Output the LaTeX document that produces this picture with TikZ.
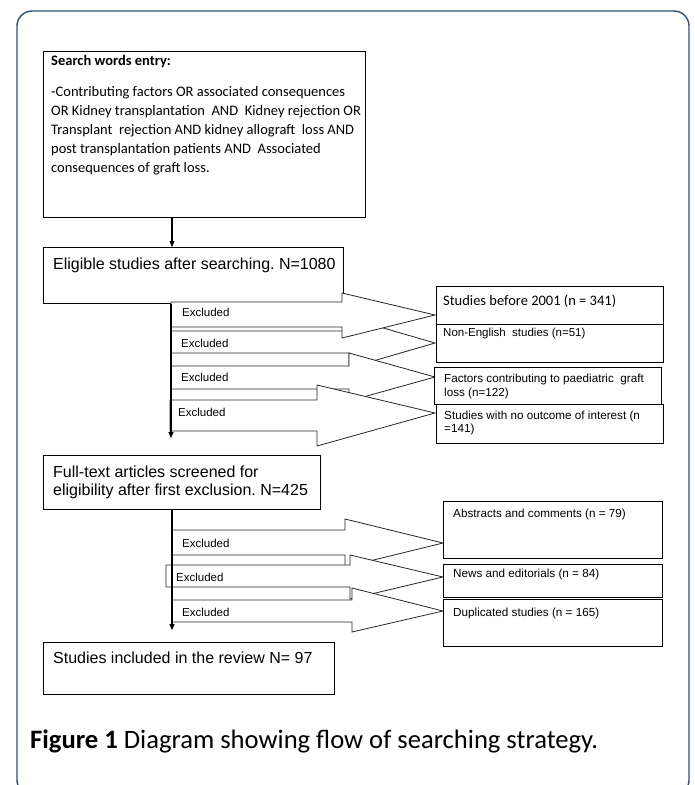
\documentclass[tikz,border=0pt]{standalone}
\usepackage{fontspec}
\setmainfont{Carlito}
\newfontfamily\arialf{Liberation Sans}
\usetikzlibrary{arrows.meta}
\definecolor{framecol}{RGB}{47,79,117}
\frenchspacing
\newcommand\blkarr[8]{\draw[blk] (#1,#2) -- (#4,#2) -- (#4,#5) -- (#7,#8) -- (#4,#6) -- (#4,#3) -- (#1,#3) -- cycle;}
\begin{document}
\begin{tikzpicture}[x=1pt,y=-1pt,
  box/.style={draw=black,line width=0.9pt,fill=white,inner sep=0pt,anchor=north west},
  ctxt/.style={anchor=base west,inner sep=0pt,font=\fontsize{14.5}{17}\selectfont},
  atxt/.style={anchor=base west,inner sep=0pt,font=\arialf\fontsize{11.7}{14}\selectfont},
  bigtxt/.style={anchor=base west,inner sep=0pt,font=\arialf\fontsize{16}{19}\selectfont},
  exc/.style={anchor=base west,inner sep=0pt,font=\arialf\fontsize{11.5}{14}\selectfont},
  blk/.style={draw=black!85,line width=0.8pt,fill=white,line join=miter},
  flow/.style={draw=black,line width=1.1pt,-{Triangle[width=5pt,length=6pt]}}
]
\useasboundingbox (0,0) rectangle (694,785);
\fill[white] (0,0) rectangle (694,785);
% outer frame
\draw[framecol,line width=1.4pt,rounded corners=15pt] (17,11) rectangle (689,795);

% ---------- left column boxes ----------
\node[box,minimum width=322pt,minimum height=166pt] (search) at (43,51) {};
\node[ctxt,font=\bfseries\fontsize{14.5}{17}\selectfont] (s0) at (51,65) {Search words entry:};
\node[ctxt] (s1) at (51,96) {-Contributing factors OR associated consequences};
\node[ctxt] (s2) at (51,115.2) {OR Kidney transplantation \ AND \ Kidney rejection OR};
\node[ctxt] (s3) at (51,134.4) {Transplant \ rejection AND kidney allograft \ loss AND};
\node[ctxt] (s4) at (51,153.6) {post transplantation patients AND \ Associated};
\node[ctxt] (s5) at (51,172.8) {consequences of graft loss.};

\node[box,minimum width=300pt,minimum height=56pt] (elig) at (43,247) {};
\node[bigtxt] (et) at (53,269.7) {Eligible studies after searching. N=1080};

\draw[flow] ([xshift=129pt]search.south west) -- ([xshift=129pt]elig.north west);

% ---------- first group of block arrows ----------
\blkarr{171}{331}{353}{349}{318}{368}{435}{343}
\blkarr{171}{302}{327}{342}{293}{338}{435}{315}
\blkarr{171}{366}{389}{349}{353}{401}{435}{377}
\blkarr{170}{400}{431}{317}{385}{446}{435}{413}

\node[exc] (x1) at (182,316) {Excluded};
\node[exc] (x2) at (181,347) {Excluded};
\node[exc] (x3) at (181,381) {Excluded};
\node[exc] (x4) at (178,416) {Excluded};

\coordinate (g1end) at (171,438);
\draw[flow] ([xshift=128pt]elig.south west) -- (g1end);

% right boxes group 1
\node[box,minimum width=227pt,minimum height=38pt] (b1) at (436,286) {};
\node[box,minimum width=227pt,minimum height=38pt] (b2) at (436,324) {};
\node[box,minimum width=227pt,minimum height=37pt] (b3) at (434,367) {};
\node[box,minimum width=227pt,minimum height=39pt] (b4) at (436,404) {};
\node[ctxt] (b1t) at (443,305.7) {Studies before 2001 (n = 341)};
\node[atxt,font=\arialf\fontsize{11.5}{14}\selectfont] (b2t) at (443,336) {Non-English \ studies (n=51)};
\node[atxt] (b3t) at (444,382) {Factors contributing to paediatric \ graft};
\node[atxt] (b3u) at (444,396) {loss (n=122)};
\node[atxt] (b4t) at (444,419) {Studies with no outcome of interest (n};
\node[atxt] (b4u) at (444,432) {=141)};

% ---------- full text box ----------
\node[box,minimum width=277pt,minimum height=54pt] (full) at (43,455) {};
\node[bigtxt] (f1) at (53,477.7) {Full-text articles screened for};
\node[bigtxt] (f2) at (53,495.7) {eligibility after first exclusion. N=425};

% ---------- second group of block arrows ----------
\blkarr{172}{530}{555}{345}{519}{567}{443}{543}
\blkarr{166}{565}{587}{350}{555}{599}{443}{577}
\blkarr{172}{600}{622}{352}{588}{632}{443}{611}

\node[exc] (x5) at (182,547) {Excluded};
\node[exc] (x6) at (176,581) {Excluded};
\node[exc] (x7) at (182,616) {Excluded};

\coordinate (g2end) at (172,630);
\draw[flow] ([xshift=129pt]full.south west) -- (g2end);

% right boxes group 2
\node[box,minimum width=219pt,minimum height=57pt] (b5) at (443,501) {};
\node[box,minimum width=219pt,minimum height=33pt] (b6) at (443,564) {};
\node[box,minimum width=219pt,minimum height=47pt] (b7) at (443,599) {};
\node[atxt] (b5t) at (453,517) {Abstracts and comments (n = 79)};
\node[atxt] (b6t) at (453,577) {News and editorials (n = 84)};
\node[atxt] (b7t) at (453,616) {Duplicated studies (n = 165)};

% ---------- final box ----------
\node[box,minimum width=291pt,minimum height=52pt] (incl) at (43,642) {};
\node[bigtxt] (it) at (53,663.7) {Studies included in the review N= 97};

% caption
\node[anchor=base west,inner sep=0pt,font=\fontsize{26.6}{30}\selectfont] (cap) at (30,748) {\textbf{Figure 1} Diagram showing flow of searching strategy.};
\end{tikzpicture}
\end{document}
